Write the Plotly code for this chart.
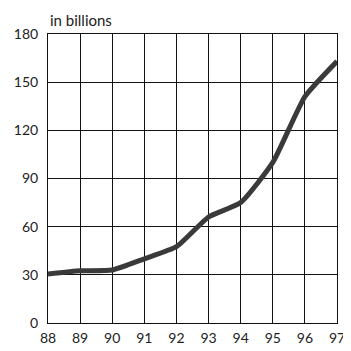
import plotly.graph_objects as go

years = [88, 89, 90, 91, 92, 93, 94, 95, 96, 97]
values = [30.5, 32.5, 33, 40, 47.5, 66, 75, 100, 141, 163]
x_ticks = [88, 89, 90, 91, 92, 93, 94, 95, 96, 97]
y_ticks = [0, 30, 60, 90, 120, 150, 180]

fig = go.Figure()
fig.add_trace(go.Scatter(
    x=years, y=values, mode="lines",
    line=dict(color="#3a3a3a", width=5, shape="spline", smoothing=0.5),
    showlegend=False, hoverinfo="skip",
))

font = dict(family="Lato, 'Open Sans', sans-serif", size=14, color="#222")
fig.update_layout(
    width=343, height=343,
    margin=dict(l=40, r=14, t=26, b=28),
    paper_bgcolor="white", plot_bgcolor="white",
    font=font,
    xaxis=dict(range=[88, 97], tickvals=x_ticks, ticktext=[str(v) for v in x_ticks],
               showgrid=True, gridcolor="#111", gridwidth=1, zeroline=False,
               showline=True, linecolor="#111", linewidth=1, mirror=True,
               ticks="", ticklabelstandoff=2, fixedrange=True, automargin=False),
    yaxis=dict(range=[0, 180], tickvals=y_ticks, ticktext=[str(v) for v in y_ticks],
               showgrid=True, gridcolor="#111", gridwidth=1, zeroline=False,
               showline=True, linecolor="#111", linewidth=1, mirror=True,
               ticks="", ticklabelstandoff=6, fixedrange=True, automargin=False),
    annotations=[dict(text="in billions", xref="paper", yref="paper", x=0.0, y=1.0,
                      xanchor="left", yanchor="bottom", yshift=3, showarrow=False,
                      font=dict(family="Lato, 'Open Sans', sans-serif", size=15, color="#222"))],
)

fig.write_html("out.html")
